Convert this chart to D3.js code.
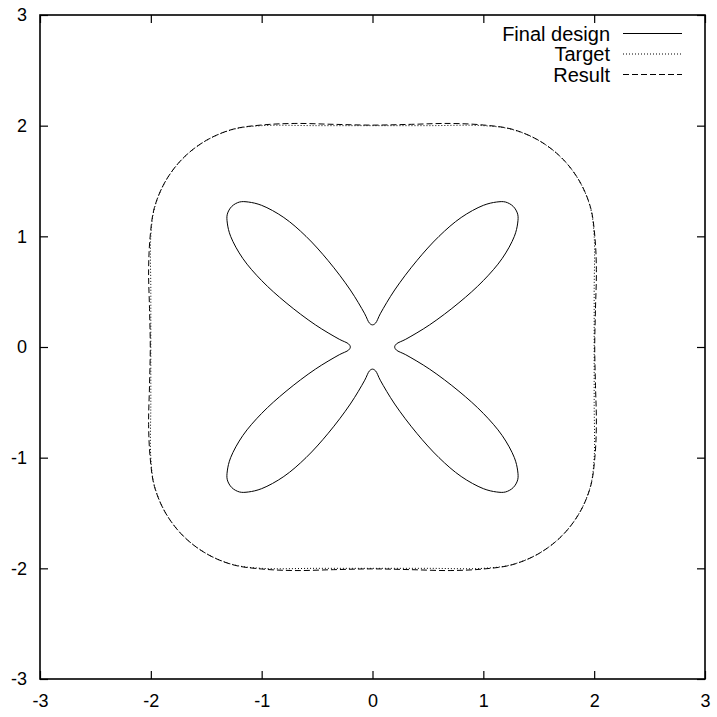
<!DOCTYPE html>
<html>
<head>
<meta charset="utf-8">
<script src="https://cdn.jsdelivr.net/npm/d3@7"></script>
<style>
  html, body { margin: 0; padding: 0; background: #fff; }
  svg { display: block; }
  text { font-family: "Liberation Sans", Arial, Helvetica, sans-serif; fill: #000; }
</style>
</head>
<body>
<svg id="chart" width="717" height="717"></svg>
<script>
// Axis tick values
const xTicks = [-3, -2, -1, 0, 1, 2, 3];
const yTicks = [-3, -2, -1, 0, 1, 2, 3];

// Legend entries
const seriesNames = ["Final design", "Target", "Result"];

// Final design: four-petal outline, traced as one closed loop
const finalDesign = [
  [0.20,0.00],[0.215,0.027],[0.30,0.07],[0.515,0.20],[0.78,0.40],[1.00,0.60],[1.17,0.80],[1.28,1.00],[1.31,1.12],[1.31,1.20],
  [1.27,1.27],[1.20,1.31],[1.12,1.31],[1.00,1.28],[0.80,1.17],[0.60,1.00],[0.40,0.78],[0.20,0.515],[0.07,0.30],[0.027,0.215],
  [0.00,0.20],[-0.027,0.215],[-0.07,0.30],[-0.20,0.515],[-0.40,0.78],[-0.60,1.00],[-0.80,1.17],[-1.00,1.28],[-1.12,1.31],[-1.20,1.31],
  [-1.27,1.27],[-1.31,1.20],[-1.31,1.12],[-1.28,1.00],[-1.17,0.80],[-1.00,0.60],[-0.78,0.40],[-0.515,0.20],[-0.30,0.07],[-0.215,0.027],
  [-0.20,0.00],[-0.215,-0.027],[-0.30,-0.07],[-0.515,-0.20],[-0.78,-0.40],[-1.00,-0.60],[-1.17,-0.80],[-1.28,-1.00],[-1.31,-1.12],[-1.31,-1.20],
  [-1.27,-1.27],[-1.20,-1.31],[-1.12,-1.31],[-1.00,-1.28],[-0.80,-1.17],[-0.60,-1.00],[-0.40,-0.78],[-0.20,-0.515],[-0.07,-0.30],[-0.027,-0.215],
  [0.00,-0.20],[0.027,-0.215],[0.07,-0.30],[0.20,-0.515],[0.40,-0.78],[0.60,-1.00],[0.80,-1.17],[1.00,-1.28],[1.12,-1.31],[1.20,-1.31],
  [1.27,-1.27],[1.31,-1.20],[1.31,-1.12],[1.28,-1.00],[1.17,-0.80],[1.00,-0.60],[0.78,-0.40],[0.515,-0.20],[0.30,-0.07],[0.215,-0.027]
];

// Target: square of half-width 2 with rounded corners
const target = [
  [2.00,0.00],[2.00,0.50],[2.00,1.00],[1.966,1.259],[1.866,1.50],[1.707,1.707],[1.50,1.866],[1.259,1.966],[1.00,2.00],[0.50,2.00],
  [0.00,2.00],[-0.50,2.00],[-1.00,2.00],[-1.259,1.966],[-1.50,1.866],[-1.707,1.707],[-1.866,1.50],[-1.966,1.259],[-2.00,1.00],[-2.00,0.50],
  [-2.00,0.00],[-2.00,-0.50],[-2.00,-1.00],[-1.966,-1.259],[-1.866,-1.50],[-1.707,-1.707],[-1.50,-1.866],[-1.259,-1.966],[-1.00,-2.00],[-0.50,-2.00],
  [0.00,-2.00],[0.50,-2.00],[1.00,-2.00],[1.259,-1.966],[1.50,-1.866],[1.707,-1.707],[1.866,-1.50],[1.966,-1.259],[2.00,-1.00],[2.00,-0.50]
];

// Result: achieved outline, slightly bulged mid-edge
const result = [
  [2.005,0.00],[2.012,0.35],[2.02,0.70],[2.006,1.00],[1.968,1.259],[1.867,1.50],[1.708,1.708],[1.50,1.867],[1.259,1.968],[1.00,2.006],[0.70,2.02],[0.35,2.012],
  [0.00,2.005],[-0.35,2.012],[-0.70,2.02],[-1.00,2.006],[-1.259,1.968],[-1.50,1.867],[-1.708,1.708],[-1.867,1.50],[-1.968,1.259],[-2.006,1.00],[-2.02,0.70],[-2.012,0.35],
  [-2.005,0.00],[-2.012,-0.35],[-2.02,-0.70],[-2.006,-1.00],[-1.968,-1.259],[-1.867,-1.50],[-1.708,-1.708],[-1.50,-1.867],[-1.259,-1.968],[-1.00,-2.006],[-0.70,-2.02],[-0.35,-2.012],
  [0.00,-2.005],[0.35,-2.012],[0.70,-2.02],[1.00,-2.006],[1.259,-1.968],[1.50,-1.867],[1.708,-1.708],[1.867,-1.50],[1.968,-1.259],[2.006,-1.00],[2.02,-0.70],[2.012,-0.35]
];

const plot = { left: 40, right: 705, top: 15, bottom: 679 };
const svg = d3.select("#chart");

const x = d3.scaleLinear().domain([-3, 3]).range([plot.left, plot.right]);
const y = d3.scaleLinear().domain([-3, 3]).range([plot.bottom, plot.top]);

const tickFont = 18;
const legendFont = 20;
const tickLen = 8;
const plainNumber = d => String(d);

// Axes: ticks point inward on all four sides, labels only bottom and left
function styleAxis(g, showLabels) {
  g.select(".domain").remove();
  g.selectAll(".tick line").attr("stroke", "#000").attr("stroke-width", 1.2);
  g.selectAll(".tick text")
    .style("font-family", '"Liberation Sans", Arial, Helvetica, sans-serif')
    .style("font-size", tickFont + "px")
    .attr("fill", "#000");
  if (!showLabels) g.selectAll(".tick text").remove();
}

svg.append("g")
  .attr("transform", `translate(0,${plot.bottom})`)
  .call(d3.axisBottom(x).tickValues(xTicks).tickSize(-tickLen).tickPadding(15).tickFormat(plainNumber))
  .call(g => styleAxis(g, true));

svg.append("g")
  .attr("transform", `translate(0,${plot.top})`)
  .call(d3.axisTop(x).tickValues(xTicks).tickSize(-tickLen))
  .call(g => styleAxis(g, false));

svg.append("g")
  .attr("transform", `translate(${plot.left},0)`)
  .call(d3.axisLeft(y).tickValues(yTicks).tickSize(-tickLen).tickPadding(13).tickFormat(plainNumber))
  .call(g => styleAxis(g, true));

svg.append("g")
  .attr("transform", `translate(${plot.right},0)`)
  .call(d3.axisRight(y).tickValues(yTicks).tickSize(-tickLen))
  .call(g => styleAxis(g, false));

// Plot border
svg.append("rect")
  .attr("x", plot.left).attr("y", plot.top)
  .attr("width", plot.right - plot.left).attr("height", plot.bottom - plot.top)
  .attr("fill", "none").attr("stroke", "#000").attr("stroke-width", 1.6);

const line = d3.line()
  .x(d => x(d[0]))
  .y(d => y(d[1]))
  .curve(d3.curveCatmullRomClosed.alpha(0.5));

const styles = [
  { data: finalDesign, dash: null },
  { data: target, dash: "1,2" },
  { data: result, dash: "6,3" }
];

styles.forEach(s => {
  svg.append("path")
    .datum(s.data)
    .attr("d", line)
    .attr("fill", "none")
    .attr("stroke", "#000")
    .attr("stroke-width", 1)
    .attr("stroke-dasharray", s.dash);
});

// Legend, top right inside the plot
const legendRows = [33.5, 54, 74.5];
seriesNames.forEach((name, i) => {
  const cy = legendRows[i];
  svg.append("text")
    .attr("x", 610).attr("y", cy + 7)
    .attr("text-anchor", "end")
    .style("font-size", legendFont + "px")
    .text(name);
  svg.append("line")
    .attr("x1", 623).attr("x2", 682)
    .attr("y1", cy).attr("y2", cy)
    .attr("stroke", "#000").attr("stroke-width", 1)
    .attr("stroke-dasharray", styles[i].dash);
});
</script>
</body>
</html>
